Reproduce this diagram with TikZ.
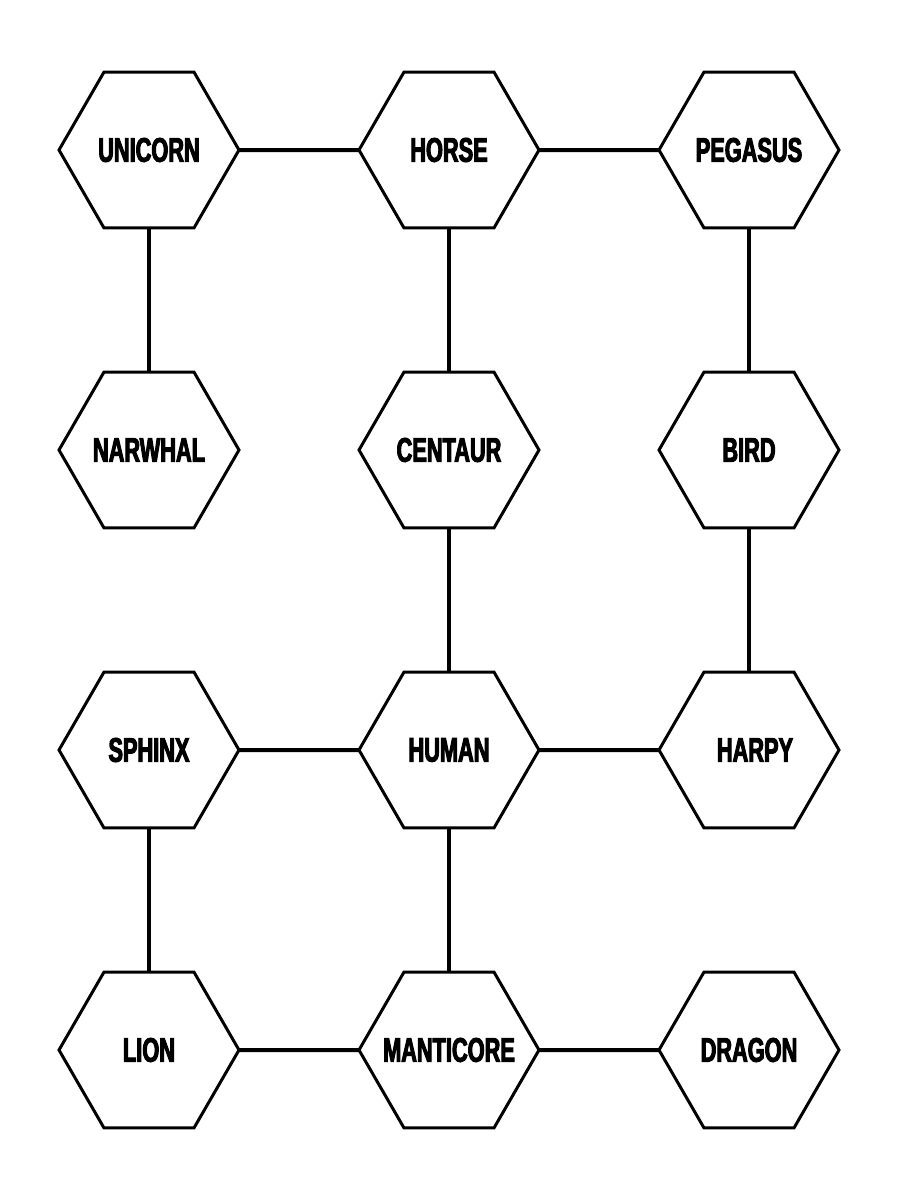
\documentclass[tikz,border=0pt]{standalone}
\usepackage{fontspec}
\usetikzlibrary{shapes.geometric}
\newfontfamily\hexfont[FakeStretch=0.64,FakeBold=3]{Liberation Sans}
\begin{document}
\begin{tikzpicture}[x=1pt,y=-1pt,
  hexa/.style={regular polygon, regular polygon sides=6, minimum size=180pt,
    inner sep=0pt, outer sep=0pt, draw=black, line width=3pt, fill=white,
    font=\hexfont\bfseries\fontsize{34}{34}\selectfont},
  link/.style={line width=4pt, draw=black}]
\useasboundingbox[fill=white] (0,0) rectangle (900,1200);
\node[hexa] (unicorn) at (149,150) {\makebox[0pt]{UNICORN}};
\node[hexa] (horse) at (449,150) {\makebox[0pt]{HORSE}};
\node[hexa] (pegasus) at (749,150) {\makebox[0pt]{PEGASUS}};
\node[hexa] (narwhal) at (149,450) {\makebox[0pt]{NARWHAL}};
\node[hexa] (centaur) at (449,450) {\makebox[0pt]{CENTAUR}};
\node[hexa] (bird) at (749,450) {\makebox[0pt]{BIRD}};
\node[hexa] (sphinx) at (149,750) {\makebox[0pt]{SPHINX}};
\node[hexa] (human) at (449,750) {\makebox[0pt]{HUMAN}};
\node[hexa] (harpy) at (749,750) {\makebox[0pt]{\hspace*{12pt}HARPY}};
\node[hexa] (lion) at (149,1050) {\makebox[0pt]{LION}};
\node[hexa] (manticore) at (449,1050) {\makebox[0pt]{MANTICORE}};
\node[hexa] (dragon) at (749,1050) {\makebox[0pt]{DRAGON}};
\draw[link] (unicorn) -- (horse);
\draw[link] (horse) -- (pegasus);
\draw[link] (unicorn) -- (narwhal);
\draw[link] (horse) -- (centaur);
\draw[link] (pegasus) -- (bird);
\draw[link] (centaur) -- (human);
\draw[link] (bird) -- (harpy);
\draw[link] (sphinx) -- (human);
\draw[link] (human) -- (harpy);
\draw[link] (sphinx) -- (lion);
\draw[link] (human) -- (manticore);
\draw[link] (lion) -- (manticore);
\draw[link] (manticore) -- (dragon);
\end{tikzpicture}
\end{document}
